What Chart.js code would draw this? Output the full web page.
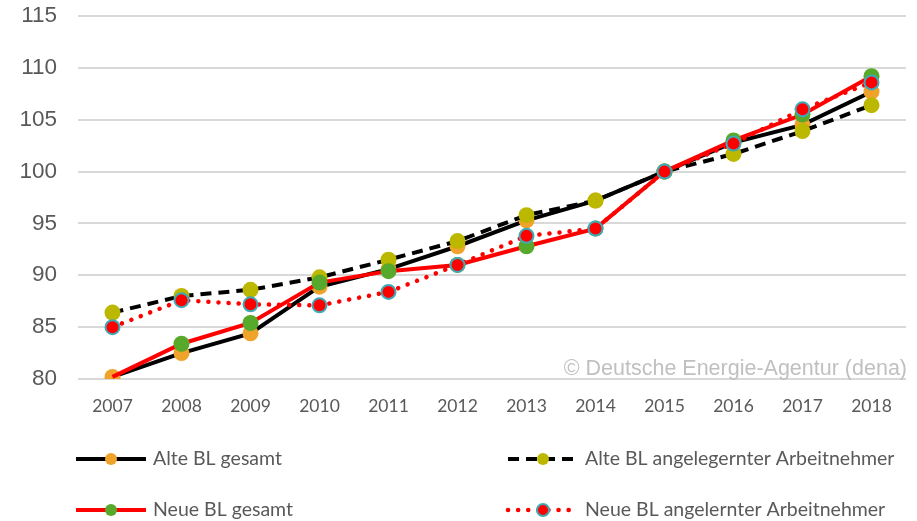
<!DOCTYPE html>
<html>
<head>
  <title>Lohnentwicklung Alte / Neue BL</title>
  <script src="https://cdn.jsdelivr.net/npm/chart.js"></script>
  <style>
    body { margin: 0; background: #fff; }
    #wrap { width: 917px; height: 521px; }
  </style>
</head>
<body>
  <div id="wrap"><canvas id="myChart" width="917" height="521"></canvas></div>

  <script type="text/javascript">
    // values (index, 2015 = 100)
    var years = ['2007', '2008', '2009', '2010', '2011', '2012', '2013', '2014', '2015', '2016', '2017', '2018'];
    var alteGesamt    = [80.2, 82.5, 84.4, 88.9, 90.6, 92.8, 95.3, 97.2, 100, 102.8, 104.5, 107.7];
    var alteAngelernt = [86.4, 88.0, 88.6, 89.8, 91.5, 93.3, 95.8, 97.2, 100, 101.7, 103.9, 106.4];
    var neueGesamt    = [80.2, 83.4, 85.4, 89.3, 90.4, 91.0, 92.8, 94.5, 100, 103.0, 105.5, 109.2];
    var neueAngelernt = [85.0, 87.6, 87.2, 87.1, 88.4, 91.0, 93.8, 94.5, 100, 102.7, 106.0, 108.6];
    var yTicks = [80, 85, 90, 95, 100, 105, 110, 115];
    var watermark = '\u00A9 Deutsche Energie-Agentur (dena)';

    var grey = '#595959';

    // legend in two columns below the axis, drawn on the canvas
    var legendPlugin = {
      id: 'twoColLegend',
      afterDraw: function(chart) {
        var ctx = chart.ctx;
        var cols = [{ x0: 76, x1: 146, tx: 153 }, { x0: 508, x1: 578, tx: 585 }];
        var rows = [459, 510];
        chart.data.datasets.forEach(function(ds, i) {
          var c = cols[i % 2], y = rows[Math.floor(i / 2)];
          ctx.save();
          ctx.strokeStyle = ds.borderColor;
          ctx.lineWidth = ds.borderWidth;
          ctx.lineCap = ds.borderCapStyle || 'butt';
          ctx.setLineDash(ds.borderDash || []);
          ctx.beginPath();
          ctx.moveTo(c.x0, y);
          ctx.lineTo(c.x1, y);
          ctx.stroke();
          ctx.setLineDash([]);
          ctx.beginPath();
          ctx.arc((c.x0 + c.x1) / 2, y, 6, 0, Math.PI * 2);
          ctx.fillStyle = ds.pointBackgroundColor;
          ctx.fill();
          if (ds.pointBorderWidth > 0) {
            ctx.lineWidth = 2;
            ctx.strokeStyle = ds.pointBorderColor;
            ctx.stroke();
          }
          ctx.fillStyle = grey;
          ctx.font = '19.5px Lato';
          ctx.textBaseline = 'middle';
          ctx.textAlign = 'left';
          ctx.fillText(ds.label, c.tx, y);
          ctx.restore();
        });
      }
    };

    var watermarkPlugin = {
      id: 'watermark',
      beforeDatasetsDraw: function(chart) {
        var ctx = chart.ctx, a = chart.chartArea;
        ctx.save();
        ctx.fillStyle = '#c0c0c0';
        ctx.font = '21.5px "Liberation Sans", Arial, sans-serif';
        ctx.textAlign = 'right';
        ctx.textBaseline = 'alphabetic';
        ctx.fillText(watermark, a.right + 1, a.bottom - 4);
        ctx.restore();
      }
    };

    const ctx = document.getElementById('myChart').getContext('2d');

    new Chart(ctx, {
      type: 'line',
      data: {
        labels: years,
        datasets: [{
          label: 'Alte BL gesamt',
          data: alteGesamt,
          borderColor: '#000000',
          borderWidth: 4,
          pointBackgroundColor: '#F0A32A',
          pointBorderColor: '#F0A32A',
          pointBorderWidth: 0,
          pointRadius: 8,
          order: 4,
          fill: false
        }, {
          label: 'Alte BL angelegernter Arbeitnehmer',
          data: alteAngelernt,
          borderColor: '#000000',
          borderWidth: 4,
          borderDash: [11, 7],
          pointBackgroundColor: '#BCB800',
          pointBorderColor: '#BCB800',
          pointBorderWidth: 0,
          pointRadius: 8,
          order: 3,
          fill: false
        }, {
          label: 'Neue BL gesamt',
          data: neueGesamt,
          borderColor: '#FF0000',
          borderWidth: 4,
          pointBackgroundColor: '#57A92B',
          pointBorderColor: '#57A92B',
          pointBorderWidth: 0,
          // 2007 marker is hidden under the orange one in the original
          pointRadius: [0, 8, 8, 8, 8, 8, 8, 8, 8, 8, 8, 8],
          order: 2,
          fill: false
        }, {
          label: 'Neue BL angelernter Arbeitnehmer',
          data: neueAngelernt,
          borderColor: '#FF0000',
          borderWidth: 4.5,
          borderDash: [0.1, 10],
          borderCapStyle: 'round',
          pointBackgroundColor: '#FF0000',
          pointBorderColor: '#3FA9B8',
          pointBorderWidth: 2,
          pointRadius: 7,
          order: 1,
          fill: false
        }]
      },
      options: {
        responsive: false,
        animation: false,
        layout: { padding: { top: 16, right: 11, left: 0, bottom: 0 } },
        plugins: {
          legend: { display: false },
          tooltip: { enabled: false }
        },
        scales: {
          x: {
            offset: true,
            grid: { display: false, drawTicks: false },
            border: { display: false },
            ticks: { color: grey, font: { family: 'Lato', size: 17.5 }, padding: 17, maxRotation: 0 },
            afterFit: function(s) { s.height = 142; s.paddingLeft = 0; s.paddingRight = 0; }
          },
          y: {
            min: 80,
            max: 115,
            afterBuildTicks: function(s) { s.ticks = yTicks.map(function(v) { return { value: v }; }); },
            grid: { color: '#d9d9d9', lineWidth: 2, drawTicks: false },
            border: { display: false },
            ticks: { color: grey, font: { family: 'Liberation Sans', size: 22.5 }, padding: 21 },
            afterFit: function(s) { s.width = 78; s.paddingTop = 0; s.paddingBottom = 0; }
          }
        }
      },
      plugins: [watermarkPlugin, legendPlugin]
    });
  </script>
</body>
</html>
